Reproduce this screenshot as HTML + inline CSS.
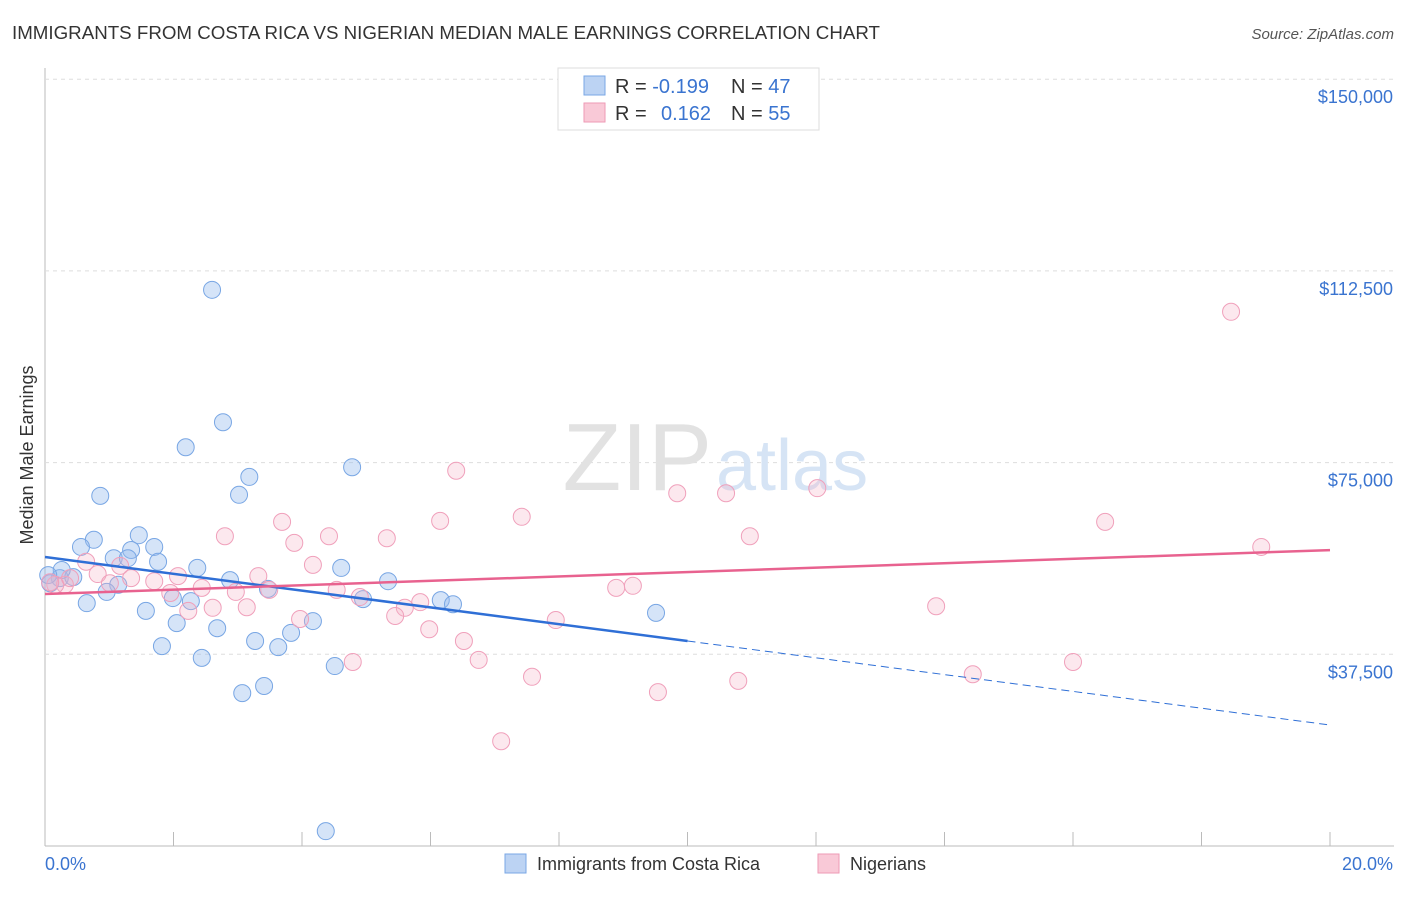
<!DOCTYPE html>
<html><head><meta charset="utf-8"><style>
body{margin:0;background:#fff;font-family:"Liberation Sans",sans-serif}
svg text{font-family:"Liberation Sans",sans-serif}
</style></head><body>
<svg id="chart" width="1406" height="892">
<text x="12" y="39" font-size="18" fill="#333" textLength="868" lengthAdjust="spacingAndGlyphs">IMMIGRANTS FROM COSTA RICA VS NIGERIAN MEDIAN MALE EARNINGS CORRELATION CHART</text>
<text x="1394" y="39" font-size="15" fill="#555" font-style="italic" text-anchor="end">Source: ZipAtlas.com</text>
<text x="33" y="455" font-size="18" fill="#333" transform="rotate(-90 33 455)" text-anchor="middle">Median Male Earnings</text>
<g id="grid"></g>
<text x="712" y="490" font-size="96" fill="#e2e2e2" font-family="Liberation Serif" text-anchor="end">ZIP</text>
<text x="716" y="490" font-size="72" fill="#d6e4f5">atlas</text>
<g id="pts"></g>
<g id="lines"></g>
<g>
<rect x="558" y="68" width="261" height="62" fill="#fff" stroke="#ddd"/>
<rect x="584" y="76" width="21" height="19" fill="#bcd3f3" stroke="#7aa7e6"/>
<rect x="584" y="103" width="21" height="19" fill="#f9c9d7" stroke="#ee9ab6"/>
<text x="615" y="93" font-size="20" fill="#333">R = <tspan fill="#3a74d0">-0.199</tspan><tspan x="731">N = </tspan><tspan fill="#3a74d0">47</tspan></text>
<text x="615" y="120" font-size="20" fill="#333">R = <tspan x="661" fill="#3a74d0">0.162</tspan><tspan x="731">N = </tspan><tspan fill="#3a74d0">55</tspan></text>
</g>
<text x="45" y="870" font-size="18" fill="#3a74d0">0.0%</text>
<text x="1393" y="870" font-size="18" fill="#3a74d0" text-anchor="end">20.0%</text>
<rect x="505" y="854" width="21" height="19" fill="#bcd3f3" stroke="#7aa7e6"/>
<text x="537" y="870" font-size="18" fill="#333">Immigrants from Costa Rica</text>
<rect x="818" y="854" width="21" height="19" fill="#f9c9d7" stroke="#ee9ab6"/>
<text x="850" y="870" font-size="18" fill="#333">Nigerians</text>
</svg>
<script>
const yTicks=[37500,75000,112500,150000];
const yTickLabels=["$37,500","$75,000","$112,500","$150,000"];
const blueX=[2.60,2.77,2.19,4.78,3.18,0.86,3.02,1.46,0.76,1.70,0.56,1.34,1.07,1.76,1.29,2.37,4.61,2.88,5.34,0.23,0.44,0.26,0.08,0.05,1.14,0.96,3.47,1.99,2.27,4.95,6.16,6.35,0.65,1.57,9.51,4.17,2.05,2.68,3.83,3.27,3.63,1.82,2.44,4.51,3.41,3.07,4.37];
const blueY=[108.8,82.9,78.0,74.1,72.2,68.5,68.7,60.8,59.9,58.5,58.5,57.9,56.3,55.6,56.3,54.4,54.4,52.0,51.8,52.4,52.6,54.0,51.4,53.0,51.1,49.7,50.3,48.5,47.9,48.3,48.1,47.3,47.5,46.0,45.6,44.0,43.6,42.6,41.7,40.1,38.9,39.1,36.8,35.2,31.3,29.9,2.9];
const pinkX=[18.46,6.40,9.84,10.60,12.02,7.42,16.50,3.69,6.15,4.42,2.80,5.32,10.97,3.88,18.93,0.64,1.17,0.82,2.07,1.34,3.32,1.70,0.31,0.16,0.08,4.17,2.44,3.49,2.97,1.95,4.54,4.90,8.89,9.15,5.84,5.60,2.23,2.61,3.14,5.45,3.97,13.87,7.95,5.98,6.52,6.75,4.79,16.00,14.44,7.58,10.79,9.54,7.10,0.39,1.01];
const pinkY=[104.5,73.4,69.0,69.0,70.0,64.4,63.4,63.4,63.6,60.6,60.6,60.2,60.6,59.3,58.5,55.6,54.8,53.2,52.8,52.4,52.8,51.8,51.1,51.1,51.6,55.0,50.5,50.1,49.7,49.5,50.1,48.7,50.5,50.9,47.7,46.6,46.0,46.6,46.7,45.0,44.4,46.9,44.2,42.4,40.1,36.4,36.0,36.0,33.6,33.1,32.3,30.1,20.5,52.4,51.4];
const blueTrend=[56530,23670];
const blueSolidEnd=10;
const pinkTrend=[49290,57890];
const X=p=>45+p*64.25;
const Y=v=>846-v/37500*191.7;
const ns="http://www.w3.org/2000/svg";
function mk(t,a,parent){const e=document.createElementNS(ns,t);for(const k in a)e.setAttribute(k,a[k]);document.getElementById(parent).appendChild(e);return e;}
mk('line',{x1:45,y1:68,x2:45,y2:846,stroke:'#bbb'},'grid');
mk('line',{x1:45,y1:846,x2:1394,y2:846,stroke:'#bbb'},'grid');
for(let i=1;i<=10;i++){const x=45+i*128.5;const t=mk('line',{x1:x,y1:832,x2:x,y2:846,stroke:'#bbb'},'grid');

}
yTicks.forEach((v,i)=>{const g=mk('line',{x1:45,y1:Y(v),x2:1394,y2:Y(v),stroke:'#ddd','stroke-dasharray':'4,4'},'grid');


const t=mk('text',{x:1393,y:Y(v)+24,'font-size':18,fill:'#3a74d0','text-anchor':'end'},'grid');t.textContent=yTickLabels[i];

});
blueX.forEach((x,i)=>{const c=mk('circle',{cx:X(x),cy:Y(blueY[i]*1000),r:8.5,fill:'rgba(150,188,238,0.4)',stroke:'#78a6e4','stroke-width':1},'pts');

});
pinkX.forEach((x,i)=>{const c=mk('circle',{cx:X(x),cy:Y(pinkY[i]*1000),r:8.5,fill:'rgba(246,180,200,0.3)',stroke:'#f0a0bb','stroke-width':1},'pts');

});
const by=p=>blueTrend[0]+(blueTrend[1]-blueTrend[0])*p/20;
let l=mk('line',{x1:X(0),y1:Y(blueTrend[0]),x2:X(blueSolidEnd),y2:Y(by(blueSolidEnd)),stroke:'#2f6fd6','stroke-width':2.5},'lines');


l=mk('line',{x1:X(blueSolidEnd),y1:Y(by(blueSolidEnd)),x2:X(20),y2:Y(blueTrend[1]),stroke:'#2f6fd6','stroke-width':1,'stroke-dasharray':'8,5'},'lines');


l=mk('line',{x1:X(0),y1:Y(pinkTrend[0]),x2:X(20),y2:Y(pinkTrend[1]),stroke:'#e8628f','stroke-width':2.5},'lines');


</script>
</body></html>
